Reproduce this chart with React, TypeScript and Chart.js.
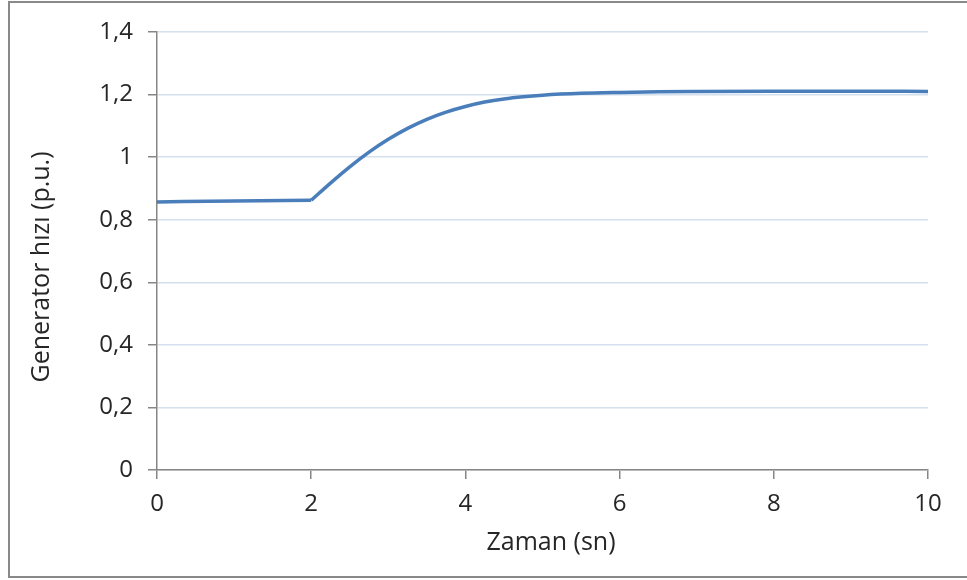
import React, { useEffect, useRef } from "react";
import { Chart, registerables } from "chart.js";

Chart.register(...registerables);

const times = [0, 1, 2, 2.25, 2.5, 2.75, 3, 3.25, 3.5, 3.75, 4, 4.25, 4.5, 4.75, 5, 5.5, 6, 6.5, 7, 8, 9, 10];
const speeds = [0.857, 0.86, 0.862, 0.917, 0.969, 1.016, 1.057, 1.092, 1.121, 1.144, 1.162, 1.176, 1.186, 1.193, 1.198, 1.204, 1.207, 1.209, 1.21, 1.211, 1.211, 1.21];
const stepTime = 2;
const yTickLabels = ["0", "0,2", "0,4", "0,6", "0,8", "1", "1,2", "1,4"];
const xTickLabels = ["0", "2", "4", "6", "8", "10"];
const xTitle = "Zaman (sn)";
const yTitle = "Generator hızı (p.u.)";

const FONT = "'Open Sans', 'Noto Sans', sans-serif";
const TEXT = "#262626";
const AXIS = "#868686";
const LINE = "#4a7ebb";

const decorPlugin = {
  id: "decor",
  beforeDraw(chart: any) {
    const ctx = chart.ctx;
    ctx.save();
    ctx.fillStyle = "#ffffff";
    ctx.fillRect(0, 0, chart.width, chart.height);
    ctx.strokeStyle = "#898989";
    ctx.lineWidth = 2;
    ctx.beginPath();
    ctx.moveTo(chart.width + 5, 2);
    ctx.lineTo(9, 2);
    ctx.lineTo(9, 577);
    ctx.lineTo(chart.width + 5, 577);
    ctx.stroke();
    ctx.restore();
  },
  afterDraw(chart: any) {
    const ctx = chart.ctx;
    ctx.save();
    ctx.fillStyle = TEXT;
    ctx.font = `25px ${FONT}`;
    ctx.textAlign = "center";
    ctx.textBaseline = "middle";
    ctx.fillText(xTitle, 551, 543);
    ctx.translate(42, 267);
    ctx.rotate(-Math.PI / 2);
    ctx.fillText(yTitle, 0, 0);
    ctx.restore();
  },
};

export default function App() {
  const ref = useRef<HTMLCanvasElement | null>(null);
  useEffect(() => {
    if (!ref.current) return;
    const points = times.map((t, i) => ({ x: t, y: speeds[i] }));
    const k = times.indexOf(stepTime);
    const common = {
      borderColor: LINE,
      borderWidth: 3.5,
      pointRadius: 0,
      cubicInterpolationMode: "monotone",
      fill: false,
    };
    const chart = new Chart(ref.current, {
      type: "line",
      data: {
        datasets: [
          { ...common, data: points.slice(0, k + 1) },
          { ...common, data: points.slice(k) },
        ],
      },
      options: {
        responsive: false,
        animation: false,
        layout: { padding: { left: 0, right: 39, top: 32, bottom: 0 } },
        plugins: { legend: { display: false }, tooltip: { enabled: false } },
        scales: {
          x: {
            type: "linear",
            min: 0,
            max: 10,
            afterFit: (s: any) => { s.height = 110; },
            ticks: {
              stepSize: 2,
              color: TEXT,
              font: { family: FONT, size: 24 },
              padding: 11,
              maxRotation: 0,
              callback: (_v: any, i: number) => xTickLabels[i],
            },
            grid: { drawOnChartArea: false, drawTicks: true, tickLength: 9, tickColor: AXIS, color: AXIS, lineWidth: 1.5 },
            border: { color: AXIS, width: 1.5 },
          },
          y: {
            min: 0,
            max: 1.4,
            afterFit: (s: any) => { s.width = 157; },
            ticks: {
              stepSize: 0.2,
              color: TEXT,
              font: { family: FONT, size: 24 },
              padding: 15,
              callback: (_v: any, i: number) => yTickLabels[i],
            },
            grid: { color: "#d5e0ee", lineWidth: 1.5, tickLength: 9, tickColor: AXIS },
            border: { color: AXIS, width: 1.5 },
          },
        },
      },
      plugins: [decorPlugin],
    } as any);
    return () => chart.destroy();
  }, []);
  return (
    <div style={{ position: "absolute", left: 0, top: 0, width: 967, height: 580 }}>
      <canvas ref={ref} width={967} height={580} style={{ display: "block", width: 967, height: 580 }} />
    </div>
  );
}
